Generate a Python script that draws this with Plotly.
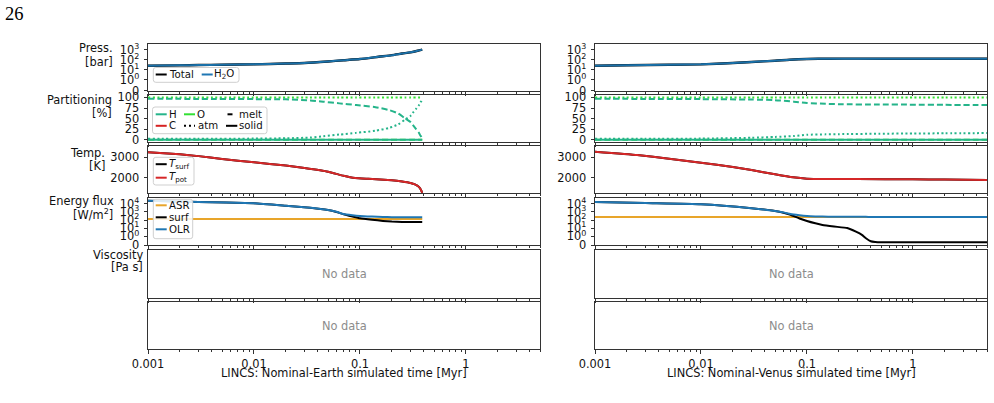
import numpy as np
import plotly.graph_objects as go

W, H = 994, 403

# ---------------- data ----------------
# x range of every panel (Myr)
x_min, x_max = 0.001, 5.0
x_major = [0.001, 0.01, 0.1, 1]
x_major_text = ["0.001", "0.01", "0.1", "1"]

# --- Pressure [bar] ---
earth_press_t = [0.001, 0.002, 0.003, 0.005, 0.01, 0.02, 0.03, 0.05, 0.07, 0.1, 0.15, 0.2, 0.25, 0.3, 0.35, 0.387]
earth_press_total = [25, 27, 29, 31, 34, 41, 47, 67, 88, 117, 200, 290, 420, 560, 800, 1050]
earth_press_h2o = [25, 27, 29, 31, 34, 41, 47, 67, 88, 117, 200, 290, 420, 560, 800, 1050]
venus_press_t = [0.001, 0.002, 0.005, 0.01, 0.02, 0.03, 0.05, 0.069, 0.1, 0.165, 0.3, 1, 2, 5]
venus_press_total = [25, 28, 31, 34, 46, 59, 80, 101, 118, 127, 128, 127, 127, 127]
venus_press_h2o = [25, 28, 31, 34, 46, 59, 80, 101, 118, 127, 128, 127, 127, 127]

# --- Partitioning [%] ---
earth_part_t = [0.001, 0.003, 0.01, 0.02, 0.034, 0.045, 0.064, 0.092, 0.14, 0.19, 0.23, 0.265, 0.3, 0.318, 0.34, 0.36, 0.37, 0.38, 0.387]
earth_H_melt = [96.7, 96.5, 96.0, 95.5, 93.0, 90.0, 86.0, 82.0, 77.0, 70.0, 62.0, 51.0, 42.0, 34.0, 25.0, 17.0, 11.0, 7.0, 3.0]
earth_H_atm = [2.5, 2.7, 3.0, 3.8, 5.5, 8.5, 12.5, 16.5, 21.5, 28.5, 36.5, 47.5, 56.5, 64.5, 73.5, 81.5, 87.5, 91.5, 97.0]
earth_H_solid = [0.5] * 19
earth_O_atm = [99.7] * 19
earth_O_melt = [0.3] * 19
venus_part_t = [0.001, 0.003, 0.01, 0.03, 0.05, 0.075, 0.1, 0.15, 0.2, 0.48, 1, 2, 5]
venus_H_melt = [96.7, 96.5, 96.0, 95.0, 93.5, 90.0, 87.0, 85.0, 84.0, 83.3, 83.0, 82.5, 82.0]
venus_H_atm = [2.5, 2.7, 3.0, 5.0, 7.0, 9.0, 12.0, 13.0, 13.5, 14.5, 15.0, 15.5, 16.0]
venus_H_solid = [0.5] * 13
venus_O_atm = [99.7] * 13
venus_O_melt = [0.3] * 13

# --- Temperature [K] ---
earth_temp_t = [0.001, 0.002, 0.003, 0.005, 0.01, 0.02, 0.03, 0.05, 0.07, 0.09, 0.12, 0.2, 0.25, 0.3, 0.33, 0.36, 0.375, 0.387]
earth_T_surf = [3250, 3150, 3060, 2920, 2760, 2600, 2480, 2300, 2100, 1990, 1950, 1880, 1820, 1750, 1680, 1560, 1430, 1270]
earth_T_pot = [3250, 3150, 3060, 2920, 2760, 2600, 2480, 2300, 2100, 1990, 1950, 1880, 1820, 1750, 1680, 1560, 1430, 1270]
venus_temp_t = [0.001, 0.0025, 0.005, 0.01, 0.02, 0.03, 0.05, 0.074, 0.1, 0.165, 0.3, 1, 2, 5]
venus_T_surf = [3276, 3115, 2930, 2740, 2530, 2383, 2173, 2026, 1958, 1943, 1938, 1929, 1915, 1895]
venus_T_pot = [3276, 3115, 2930, 2740, 2530, 2383, 2173, 2026, 1958, 1943, 1938, 1929, 1915, 1895]

# --- Energy flux [W/m^2] ---
earth_flux_t = [0.001, 0.003, 0.01, 0.02, 0.034, 0.05, 0.06, 0.07, 0.085, 0.1, 0.13, 0.165, 0.2, 0.25, 0.3, 0.387]
earth_ASR = [137] * 16
earth_surf = [25000, 17000, 11900, 6000, 3400, 1770, 1000, 520, 280, 170, 110, 80, 66, 60, 58, 58]
earth_OLR = [25000, 17000, 11900, 6000, 3400, 1770, 1050, 566, 400, 320, 270, 240, 230, 225, 222, 222]
venus_flux_t = [0.001, 0.003, 0.01, 0.03, 0.05, 0.06, 0.07, 0.085, 0.1, 0.12, 0.14, 0.18, 0.24, 0.29, 0.33, 0.36, 0.4, 0.44, 0.5, 1, 2, 5]
venus_ASR = [241] * 22
venus_surf = [17200, 12500, 8900, 2880, 1330, 820, 450, 160, 77, 40, 25, 16, 10.6, 3.7, 1.5, 0.78, 0.45, 0.37, 0.33, 0.33, 0.33, 0.33]
venus_OLR = [17200, 12500, 8900, 2880, 1330, 900, 566, 400, 320, 285, 270, 262, 258, 255, 252, 250, 248, 246, 245, 243, 242, 241]

# ---------------- styling ----------------
FONT = "DejaVu Sans"
AX_COL = "#333333"
C_BLACK = "#000000"
C_BLUE = "#1f77b4"
C_H2O = "#1a70a8"
C_RED = "#d62728"
C_ASR = "#e8a52a"
C_H = "#25b48a"
C_O = "#33e033"
C_C = "#d62222"
DASH = "6px,3px"
DOT = "2px,2.5px"
TICK_FS = 11.4

LIN = 1.0 / (1.0 - 0.1)  # matplotlib symlog linscale adjustment (linthresh=1)


def symlog(v):
    v = np.asarray(v, dtype=float)
    a = np.abs(v)
    return np.where(a <= 1, v * LIN, np.sign(v) * (LIN + np.log10(np.maximum(a, 1))))


xdom = [[148 / W, 540 / W], [595 / W, 987 / W]]
rows_px = [(44, 91), (95.3, 142), (146.3, 193), (197.5, 245.3), (250, 297.5), (302.3, 349)]


def ydom(r):
    t, b = rows_px[r]
    return [1 - b / H, 1 - t / H]


fig = go.Figure()


def ax(k, kind):
    return (kind if k == 1 else f"{kind}{k}")


def add_line(k, x, y, color, width=2.0, dash=None, smooth=0.6):
    fig.add_trace(go.Scatter(
        x=x, y=y, xaxis=ax(k, "x"), yaxis=ax(k, "y"), mode="lines",
        line=dict(color=color, width=width, dash=dash, shape="spline", smoothing=smooth),
        hoverinfo="skip", showlegend=False))


# panel index k = row*2 + col + 1
for col, (pt, ptot, ph2o) in enumerate([(earth_press_t, earth_press_total, earth_press_h2o),
                                        (venus_press_t, venus_press_total, venus_press_h2o)]):
    k = 0 * 2 + col + 1
    add_line(k, pt, symlog(ptot), C_BLACK, 2.4)
    add_line(k, pt, symlog(ph2o), C_H2O, 2.0)

for col, d in enumerate([(earth_part_t, earth_H_melt, earth_H_atm, earth_H_solid, earth_O_atm, earth_O_melt),
                         (venus_part_t, venus_H_melt, venus_H_atm, venus_H_solid, venus_O_atm, venus_O_melt)]):
    k = 1 * 2 + col + 1
    t, hm, ha, hs, oa, om = d
    add_line(k, t, om, C_O, 2.0, DASH)
    add_line(k, t, oa, C_O, 2.0, DOT)
    add_line(k, t, hs, C_H, 2.0)
    add_line(k, t, hm, C_H, 2.0, DASH)
    add_line(k, t, ha, C_H, 2.0, DOT)

for col, (t, ts, tp) in enumerate([(earth_temp_t, earth_T_surf, earth_T_pot),
                                   (venus_temp_t, venus_T_surf, venus_T_pot)]):
    k = 2 * 2 + col + 1
    add_line(k, t, ts, C_BLACK, 2.0, smooth=0.4)
    add_line(k, t, tp, C_RED, 2.0, smooth=0.4)

for col, (t, asr, surf, olr) in enumerate([(earth_flux_t, earth_ASR, earth_surf, earth_OLR),
                                           (venus_flux_t, venus_ASR, venus_surf, venus_OLR)]):
    k = 3 * 2 + col + 1
    add_line(k, t, symlog(asr), C_ASR, 2.0)
    add_line(k, t, symlog(surf), C_BLACK, 2.0, smooth=0.4)
    add_line(k, t, symlog(olr), C_BLUE, 2.0, smooth=0.4)

# empty panels (viscosity and the last row): invisible placeholder traces so the axes are drawn
for k in range(9, 13):
    fig.add_trace(go.Scatter(x=[None], y=[None], xaxis=ax(k, "x"), yaxis=ax(k, "y"),
                             mode="lines", hoverinfo="skip", showlegend=False))

# ---------------- axes ----------------
minor_vals = [m * 10.0 ** e for e in range(-3, 1) for m in range(2, 10) if m * 10.0 ** e <= x_max]

yconf = [
    dict(range=[-0.05, 4.70], tickvals=list(symlog([0, 1, 10, 100, 1000])),
         ticktext=["0", "10<sup>0</sup>", "10<sup>1</sup>", "10<sup>2</sup>", "10<sup>3</sup>"]),
    dict(range=[-5, 105], tickvals=[0, 25, 50, 75, 100], ticktext=["0", "25", "50", "75", "100"]),
    dict(range=[1260, 3540], tickvals=[2000, 3000], ticktext=["2000", "3000"]),
    dict(range=[0, 5.9], tickvals=list(symlog([0, 1, 10, 100, 1000, 10000])),
         ticktext=["0", "10<sup>0</sup>", "10<sup>1</sup>", "10<sup>2</sup>", "10<sup>3</sup>", "10<sup>4</sup>"]),
    None,
    None,
]

layout_axes = {}
for r in range(6):
    for c in range(2):
        k = r * 2 + c + 1
        xname = "xaxis" if k == 1 else f"xaxis{k}"
        yname = "yaxis" if k == 1 else f"yaxis{k}"
        layout_axes[xname] = dict(
            domain=xdom[c], anchor=ax(k, "y"), type="log", automargin=False,
            range=[np.log10(x_min), np.log10(x_max)],
            showline=True, mirror=True, linecolor=AX_COL, linewidth=1,
            ticks="outside", ticklen=4, tickwidth=1, tickcolor=AX_COL,
            tickmode="array", tickvals=x_major, ticktext=x_major_text,
            minor=dict(tickmode="array", tickvals=minor_vals, ticks="outside", ticklen=2,
                       tickwidth=1, tickcolor=AX_COL, showgrid=False),
            showticklabels=(r == 5), tickfont=dict(family=FONT, size=TICK_FS, color="#111"),
            showgrid=False, zeroline=False, fixedrange=True)
        yc = yconf[r]
        yd = dict(domain=ydom(r), anchor=ax(k, "x"), showline=True, mirror=True, automargin=False,
                  linecolor=AX_COL, linewidth=1, showgrid=False, zeroline=False, fixedrange=True)
        if yc is None:
            yd.update(range=[0, 1], ticks="", showticklabels=False)
        else:
            yd.update(range=yc["range"], tickmode="array", tickvals=yc["tickvals"],
                      ticktext=yc["ticktext"], ticks="outside", ticklen=3.5, tickwidth=1,
                      tickcolor=AX_COL, tickfont=dict(family=FONT, size=TICK_FS, color="#111"),
                      ticklabelstandoff=2)
        layout_axes[yname] = yd

fig.update_layout(template="none")
fig.update_layout(**layout_axes)

# ---------------- annotations & legends ----------------
ann = []
shapes = []


def px(x):
    return x / W


def py(y):
    return 1 - y / H


def text(x, y, s, size=11.4, xanchor="right", color="#111", family=FONT):
    ann.append(dict(x=px(x), y=py(y), xref="paper", yref="paper", text=s, showarrow=False,
                    xanchor=xanchor, yanchor="middle", font=dict(family=family, size=size, color=color),
                    borderpad=0, borderwidth=0))


# page number
text(5, 13.5, "26", size=18.5, xanchor="left", family="Liberation Serif", color="#000")

# y labels (left column only)
text(113, 48.5, "Press.")
text(113, 61.5, "[bar]")
text(112, 100, "Partitioning")
text(112, 112.5, "[%]")
text(105, 152.5, "Temp.")
text(105, 165.5, "[K]")
text(114, 200.5, "Energy flux")
text(113, 214, "[W/m<sup>2</sup>]")
text(143, 255, "Viscosity")
text(143, 267, "[Pa s]")

# x titles
text(344, 372.7, "LINCS: Nominal-Earth simulated time [Myr]", xanchor="center")
text(791, 372.7, "LINCS: Nominal-Venus simulated time [Myr]", xanchor="center")

# No data
for cx in (344, 791):
    for cy in (274, 325.5):
        text(cx, cy, "No data", xanchor="center", color="#8c8c8c")


def box(x0, y0, x1, y1, r=2.5):
    rx, ry = r / W, r / H
    X0, X1, Y0, Y1 = px(x0), px(x1), py(y0), py(y1)
    path = (f"M {X0 + rx},{Y0} L {X1 - rx},{Y0} Q {X1},{Y0} {X1},{Y0 - ry} "
            f"L {X1},{Y1 + ry} Q {X1},{Y1} {X1 - rx},{Y1} L {X0 + rx},{Y1} "
            f"Q {X0},{Y1} {X0},{Y1 + ry} L {X0},{Y0 - ry} Q {X0},{Y0} {X0 + rx},{Y0} Z")
    shapes.append(dict(type="path", path=path, xref="paper", yref="paper",
                       fillcolor="rgba(255,255,255,0.85)", line=dict(color="#cfcfcf", width=1),
                       layer="above"))


def handle(x0, x1, y, color, dash=None):
    shapes.append(dict(type="line", xref="paper", yref="paper", x0=px(x0), x1=px(x1),
                       y0=py(y), y1=py(y), line=dict(color=color, width=2, dash=dash), layer="above"))


LEG = 10.2
# pressure legend
box(153.3, 67.5, 239, 82.3)
handle(155.7, 166.7, 74.5, C_BLACK)
text(168.5, 74.5, "Total", size=LEG, xanchor="left")
handle(201.7, 212.7, 74.5, C_BLUE)
text(214, 74.5, "H<sub>2</sub>O", size=LEG, xanchor="left")

# partitioning legend
box(152.5, 107, 267, 133.7)
handle(155.7, 166.7, 114.3, C_H)
text(168.5, 114.3, "H", size=LEG, xanchor="left")
handle(184, 195, 114.3, C_O)
text(197.3, 114.3, "O", size=LEG, xanchor="left")
handle(227.5, 237.3, 114.3, C_BLACK, "5px,7px")
text(239, 114.3, "melt", size=LEG, xanchor="left")
handle(155.7, 166.7, 125.8, C_C)
text(168.5, 125.8, "C", size=LEG, xanchor="left")
handle(184, 195, 125.8, C_BLACK, "2px,3px")
text(198.3, 125.8, "atm", size=LEG, xanchor="left")
handle(226, 237.3, 125.8, C_BLACK)
text(239, 125.8, "solid", size=LEG, xanchor="left")

# temperature legend
box(153.3, 157.3, 194, 185)
handle(155.7, 166.7, 164.2, C_BLACK)
text(168.5, 164.2, "<i>T</i><sub>surf</sub>", size=LEG, xanchor="left")
handle(155.7, 166.7, 177.7, C_RED)
text(168.5, 177.7, "<i>T</i><sub>pot</sub>", size=LEG, xanchor="left")

# energy legend
box(153.3, 199.3, 192.7, 238.7)
handle(155.7, 166.7, 205.3, C_ASR)
text(168.5, 205.3, "ASR", size=LEG, xanchor="left")
handle(155.7, 166.7, 217.3, C_BLACK)
text(168.5, 217.3, "surf", size=LEG, xanchor="left")
handle(155.7, 166.7, 229.3, C_BLUE)
text(168.5, 229.3, "OLR", size=LEG, xanchor="left")

fig.update_layout(
    width=W, height=H, margin=dict(l=0, r=0, t=0, b=0, pad=0),
    paper_bgcolor="white", plot_bgcolor="white", showlegend=False,
    annotations=ann, shapes=shapes, font=dict(family=FONT),
)

fig.write_html("out.html")
